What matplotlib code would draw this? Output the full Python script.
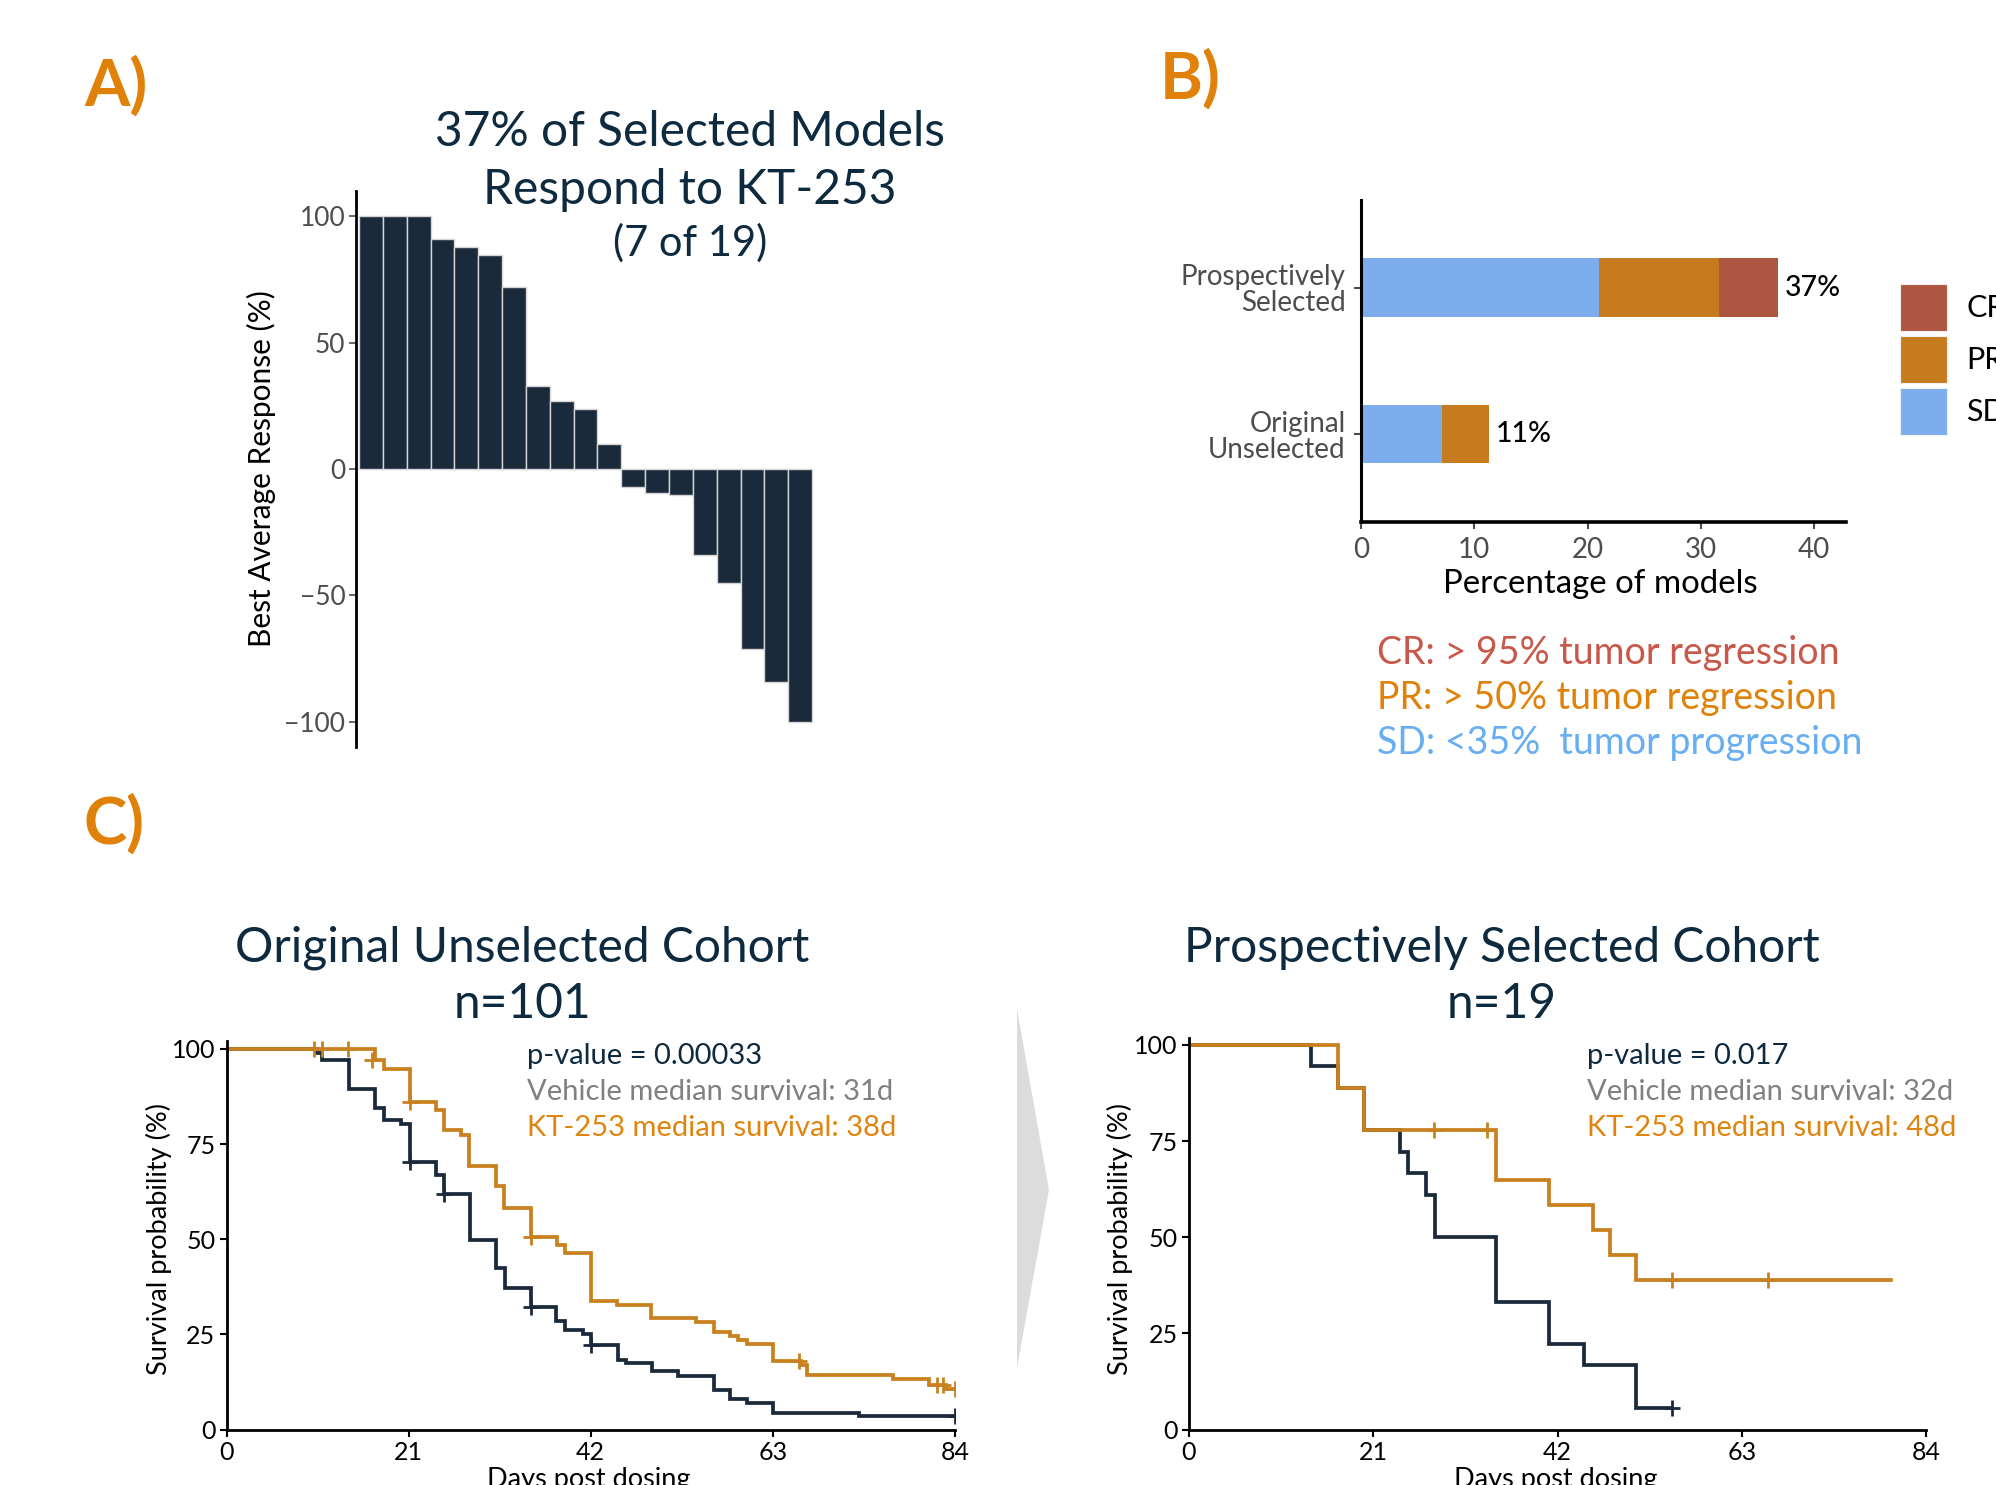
import numpy as np
import matplotlib
matplotlib.use("Agg")
import matplotlib.pyplot as plt
from matplotlib.patches import Polygon

plt.rcParams['font.family'] = ['Lato', 'DejaVu Sans']

# ---------------- data ----------------
# Panel A: waterfall of best average response (%)
response_values = [100, 100, 100, 91.0, 87.9, 84.8, 71.9, 32.8, 26.8, 23.8, 9.8,
                   -7.3, -9.3, -10.2, -34.1, -45.0, -71.1, -84.1, -100]

# Panel B: stacked percentages
cohorts = ['Original\nUnselected', 'Prospectively\nSelected']
sd_pct = [7.2, 21.05]
pr_pct = [4.1, 10.53]
cr_pct = [0.0, 5.26]
total_labels = ['11%', '37%']

# Panel C left: Original unselected cohort (n=101)
veh_L_t = [0, 10.4, 11.0, 14.1, 17.1, 18.1, 20.1, 21.15, 24.2, 25.1, 28.1, 31.1, 32.1,
           35.1, 38.0, 39.0, 41.1, 42.0, 45.1, 46.1, 49.1, 52.1, 56.2, 58.1, 60.0, 63.0, 73.0, 84.0]
veh_L_s = [100, 99.0, 97.0, 89.6, 84.5, 81.4, 80.4, 70.3, 67.0, 61.8, 49.8, 42.4, 37.2,
           32.2, 28.6, 26.2, 25.2, 22.3, 18.4, 17.5, 15.3, 14.0, 10.5, 8.0, 7.0, 4.4, 3.5, 3.5]
veh_L_cens_t = [21.15, 25.1, 35.1, 42.0, 84.0]
veh_L_cens_s = [70.3, 61.8, 32.2, 22.3, 3.5]

kt_L_t = [0, 17.1, 18.1, 21.15, 24.1, 25.1, 27.0, 28.0, 31.1, 32.0, 35.1, 38.1, 39.0,
          42.0, 45.0, 49.0, 54.1, 56.2, 58.1, 59.0, 60.0, 63.0, 66.3, 67.0, 76.9, 81.0, 83.0, 84.0]
kt_L_s = [100, 97.2, 94.7, 86.1, 83.9, 78.8, 77.3, 69.3, 63.9, 58.3, 50.7, 48.5, 46.3,
          33.7, 32.8, 29.2, 28.2, 25.6, 24.7, 23.6, 22.5, 17.9, 17.0, 14.45, 13.3, 11.8, 10.7, 10.7]
kt_L_cens_t = [10.1, 11.0, 14.0, 16.8, 21.15, 35.1, 66.0, 82.0, 82.6, 84.0]
kt_L_cens_s = [100, 100, 100, 97.2, 86.1, 50.7, 17.9, 11.8, 11.8, 10.7]

# Panel C right: Prospectively selected cohort (n=19)
veh_R_t = [0, 13.9, 17.0, 20.0, 24.0, 25.0, 27.0, 28.0, 35.0, 41.0, 45.0, 51.0, 55.0]
veh_R_s = [100, 94.4, 88.9, 77.8, 72.2, 66.7, 61.1, 50.0, 33.3, 22.2, 16.7, 5.6, 5.6]
veh_R_cens_t = [55.0]
veh_R_cens_s = [5.6]

kt_R_t = [0, 17.0, 20.0, 35.0, 41.0, 46.0, 48.0, 51.0, 80.0]
kt_R_s = [100, 88.9, 77.8, 64.8, 58.3, 51.9, 45.4, 38.9, 38.9]
kt_R_cens_t = [27.9, 34.0, 55.0, 66.0]
kt_R_cens_s = [77.8, 77.8, 38.9, 38.9]

# ---------------- style ----------------
W, H = 1996, 1485
NAVY = '#1B2A3B'
TITLE = '#0E2A3F'
ORANGE_LINE = '#C9811F'
ORANGE_TXT = '#E0840E'
LABEL_ORANGE = '#E0820A'
GRAY_TICK = '#4D4D4D'
C_SD = '#7EADEE'
C_PR = '#C77B1F'
C_CR = '#AD5641'

fig = plt.figure(figsize=(W / 100, H / 100), dpi=100)


def fx(px):
    return px / W


def fy(py):
    return 1 - py / H


# ---------------- panel labels ----------------
for lab, x, y in [('A)', 84, 86), ('B)', 1160, 79), ('C)', 83, 824)]:
    fig.text(fx(x), fy(y), lab, fontsize=47, fontweight='bold', color=LABEL_ORANGE,
             ha='left', va='center')

# ---------------- Panel A ----------------
axA = fig.add_axes([fx(356.4), fy(747), (814.7 - 356.4) / W, (747 - 191) / H])
xs = np.arange(1, len(response_values) + 1)
axA.bar(xs, response_values, width=1.0, color=NAVY, edgecolor='#d5d5d5', linewidth=1.0)
axA.set_xlim(0.39, len(response_values) + 0.61)
axA.set_ylim(-110, 110)
for s in ['top', 'right', 'bottom']:
    axA.spines[s].set_visible(False)
axA.spines['left'].set_linewidth(2)
axA.set_xticks([])
axA.set_yticks([-100, -50, 0, 50, 100])
axA.tick_params(axis='y', colors=GRAY_TICK, labelsize=19, length=5, width=1.2, pad=3)

fig.text(fx(261), fy(469), 'Best Average Response (%)', rotation=90, ha='center',
         va='center', fontsize=21.5, color='black')
fig.text(fx(690), fy(132), '37% of Selected Models', ha='center', va='center',
         fontsize=34.5, color=TITLE)
fig.text(fx(690), fy(190.5), 'Respond to KT-253', ha='center', va='center',
         fontsize=34.5, color=TITLE)
fig.text(fx(690), fy(243), '(7 of 19)', ha='center', va='center',
         fontsize=30, color=TITLE)

# ---------------- Panel B ----------------
axB = fig.add_axes([fx(1360.8), fy(522), (1846 - 1360.8) / W, (522 - 199.9) / H])
ypos = np.array([1, 2])
sd_arr = np.array(sd_pct)
pr_arr = np.array(pr_pct)
cr_arr = np.array(cr_pct)
b_sd = axB.barh(ypos, sd_arr, height=0.4, color=C_SD, linewidth=0)
b_pr = axB.barh(ypos, pr_arr, height=0.4, left=sd_arr, color=C_PR, linewidth=0)
b_cr = axB.barh(ypos, cr_arr, height=0.4, left=sd_arr + pr_arr, color=C_CR, linewidth=0)
totals = sd_arr + pr_arr + cr_arr
for y, t, lab in zip(ypos, totals, total_labels):
    axB.text(t + 0.6, y, lab, ha='left', va='center', fontsize=20.5, color='black',
             fontweight='medium')
axB.set_xlim(0, 42.8)
axB.set_ylim(0.4, 2.6)
for s in ['top', 'right']:
    axB.spines[s].set_visible(False)
axB.spines['left'].set_linewidth(2.2)
axB.spines['bottom'].set_linewidth(2.6)
axB.set_yticks(ypos)
axB.set_yticklabels(cohorts)
axB.set_xticks([0, 10, 20, 30, 40])
axB.tick_params(axis='y', colors=GRAY_TICK, labelsize=20, length=5, width=1.5, pad=6)
axB.tick_params(axis='x', colors=GRAY_TICK, labelsize=20, length=5, width=1.5, pad=6)
for t in axB.get_yticklabels():
    t.set_linespacing(1.0)
fig.text(fx(1600), fy(584), 'Percentage of models', ha='center', va='center',
         fontsize=23.8, color='black')

leg = axB.legend(handles=[b_cr, b_pr, b_sd], labels=['CR', 'PR', 'SD'],
                 loc='upper left', bbox_to_anchor=(fx(1900), fy(284)),
                 bbox_transform=fig.transFigure, frameon=False, fontsize=22,
                 handlelength=1.54, handleheight=1.99, handletextpad=0.62,
                 labelspacing=0.16, borderpad=0, borderaxespad=0)
for p in leg.get_patches():
    p.set_edgecolor('#f0f0f0')
    p.set_linewidth(0.8)

fig.text(fx(1377), fy(652.5), 'CR: > 95% tumor regression', ha='left', va='center',
         fontsize=27, color='#C8594A')
fig.text(fx(1377), fy(698), 'PR: > 50% tumor regression', ha='left', va='center',
         fontsize=27, color=LABEL_ORANGE)
fig.text(fx(1377), fy(743), 'SD: <35%  tumor progression', ha='left', va='center',
         fontsize=27, color='#67AEF2')


# ---------------- Panel C ----------------
def km_axes(rect, ylim_top, vt, vs, vct, vcs, kt, ks, kct, kcs):
    ax = fig.add_axes(rect)
    ax.step(vt, vs, where='post', color=NAVY, lw=2.7, solid_joinstyle='miter')
    ax.plot(vct, vcs, ls='none', marker='+', color=NAVY, ms=11, mew=2)
    ax.step(kt, ks, where='post', color=ORANGE_LINE, lw=2.7, solid_joinstyle='miter')
    ax.plot(kct, kcs, ls='none', marker='+', color=ORANGE_LINE, ms=11, mew=2)
    ax.set_xlim(0, 84)
    ax.set_ylim(0, ylim_top)
    ax.set_xticks([0, 21, 42, 63, 84])
    ax.set_yticks([0, 25, 50, 75, 100])
    for s in ['top', 'right']:
        ax.spines[s].set_visible(False)
    ax.spines['left'].set_linewidth(2)
    ax.spines['bottom'].set_linewidth(2)
    ax.tick_params(colors='black', labelsize=18, length=5, width=1.5, pad=3)
    for sp in ax.spines.values():
        sp.set_zorder(5)
    return ax


axL = km_axes([fx(226.6), fy(1429.6), (954.8 - 226.6) / W, (1429.6 - 1041) / H], 102.1,
              veh_L_t, veh_L_s, veh_L_cens_t, veh_L_cens_s,
              kt_L_t, kt_L_s, kt_L_cens_t, kt_L_cens_s)
axR = km_axes([fx(1189), fy(1429.6), (1926 - 1189) / W, (1429.6 - 1038) / H], 101.8,
              veh_R_t, veh_R_s, veh_R_cens_t, veh_R_cens_s,
              kt_R_t, kt_R_s, kt_R_cens_t, kt_R_cens_s)

fig.text(fx(522), fy(947.5), 'Original Unselected Cohort', ha='center', va='center',
         fontsize=34.5, color=TITLE)
fig.text(fx(522), fy(1004.5), 'n=101', ha='center', va='center', fontsize=34.5, color=TITLE)
fig.text(fx(1502), fy(947.5), 'Prospectively Selected Cohort', ha='center', va='center',
         fontsize=34.5, color=TITLE)
fig.text(fx(1502), fy(1004.5), 'n=19', ha='center', va='center', fontsize=34.5, color=TITLE)

for x in (159, 1120):
    fig.text(fx(x), fy(1239), 'Survival probability (%)', rotation=90, ha='center',
             va='center', fontsize=19.5, color='black')
for x in (589, 1556):
    fig.text(fx(x), fy(1479), 'Days post dosing', ha='center', va='center',
             fontsize=19.5, color='black')

for x0, pv, vm, km in [(527, 'p-value = 0.00033', 'Vehicle median survival: 31d',
                        'KT-253 median survival: 38d'),
                       (1587, 'p-value = 0.017', 'Vehicle median survival: 32d',
                        'KT-253 median survival: 48d')]:
    fig.text(fx(x0), fy(1056), pv, ha='left', va='center', fontsize=21, color=TITLE)
    fig.text(fx(x0), fy(1092), vm, ha='left', va='center', fontsize=21, color='#808080')
    fig.text(fx(x0), fy(1128), km, ha='left', va='center', fontsize=21, color=ORANGE_TXT)

# grey chevron between the two survival panels
tri = Polygon([(fx(1017), fy(1009)), (fx(1049), fy(1190)), (fx(1017), fy(1368))],
              closed=True, transform=fig.transFigure, facecolor='#DCDCDC',
              edgecolor='none')
fig.patches.append(tri)

fig.savefig('out.png', dpi=100)
